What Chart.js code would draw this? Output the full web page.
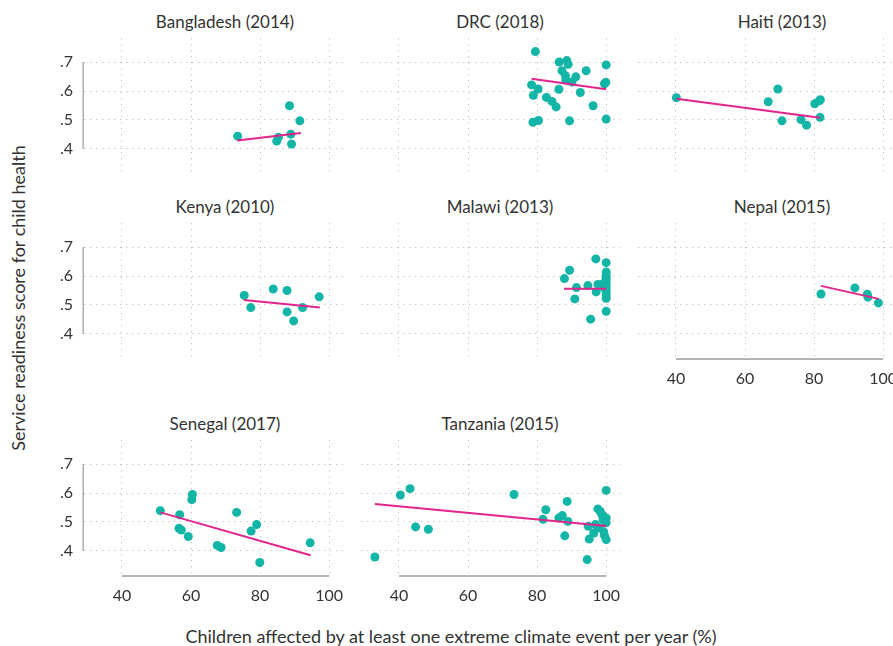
<!DOCTYPE html>
<html><head><meta charset="utf-8">
<script src="https://cdn.jsdelivr.net/npm/chart.js@4.4.0/dist/chart.umd.min.js"></script>
<style>
html,body{margin:0;padding:0;background:#fff;width:893px;height:646px;overflow:hidden;position:relative;font-family:Lato,sans-serif;color:#333;}
.panel{position:absolute;}
.title{position:absolute;font-size:17px;color:#333;text-align:center;width:260px;white-space:nowrap;line-height:20px;}
#ytitle{position:absolute;font-size:18px;white-space:nowrap;left:18px;top:298px;transform:translate(-50%,-50%) rotate(-90deg);}
#xtitle{position:absolute;font-size:18px;white-space:nowrap;left:451px;top:636px;transform:translate(-50%,-50%);}
</style></head><body>
<div id="ytitle">Service readiness score for child health</div>
<div id="xtitle">Children affected by at least one extreme climate event per year (%)</div>
<script>
// ---- data ----
const countries = ["Bangladesh (2014)","DRC (2018)","Haiti (2013)","Kenya (2010)","Malawi (2013)","Nepal (2015)","Senegal (2017)","Tanzania (2015)"];
const xTicks = [40,60,80,100];
const xTickLabels = ["40","60","80","100"];
const yTicks = [0.4,0.5,0.6,0.7];
const yTickLabels = [".4",".5",".6",".7"];

const bangladeshX = [73.5,84.8,85.3,88.5,88.9,89.1,91.5];
const bangladeshY = [0.444,0.427,0.440,0.549,0.451,0.417,0.497];
const bangladeshFitX = [73.4,91.8];
const bangladeshFitY = [0.429,0.455];

const drcX = [79.5,86.4,88.6,89.0,87.2,94.2,100,88.2,91.2,88.3,90.1,99.5,99.9,78.4,80.3,86.3,92.5,78.9,82.7,84.3,85.5,96.2,78.8,80.4,89.4,100];
const drcY = [0.736,0.700,0.705,0.692,0.670,0.670,0.690,0.653,0.649,0.638,0.631,0.625,0.630,0.621,0.607,0.606,0.595,0.585,0.578,0.564,0.545,0.549,0.492,0.498,0.497,0.503];
const drcFitX = [78.4,100];
const drcFitY = [0.642,0.606];

const haitiX = [40.1,69.5,66.7,80.2,81.5,81.8,81.7,70.7,76.2,77.8];
const haitiY = [0.577,0.607,0.563,0.556,0.566,0.570,0.509,0.497,0.501,0.482];
const haitiFitX = [40.1,81.7];
const haitiFitY = [0.573,0.508];

const kenyaX = [75.4,77.3,83.8,87.8,87.8,89.7,92.3,97.1];
const kenyaY = [0.533,0.491,0.555,0.550,0.476,0.445,0.491,0.528];
const kenyaFitX = [75.3,97.3];
const kenyaFitY = [0.517,0.491];

const malawiX = [97.0,100,89.4,87.9,91.4,94.7,97.1,97.6,90.9,95.5,100,100,100,100,100,100,100,100,100,100,99.3,99.3];
const malawiY = [0.659,0.646,0.620,0.591,0.560,0.567,0.545,0.571,0.521,0.451,0.478,0.614,0.603,0.592,0.582,0.570,0.559,0.548,0.535,0.523,0.575,0.560];
const malawiFitX = [87.8,100];
const malawiFitY = [0.556,0.556];

const nepalX = [82.0,91.8,95.4,95.6,98.6];
const nepalY = [0.538,0.559,0.537,0.527,0.507];
const nepalFitX = [82.0,98.7];
const nepalFitY = [0.566,0.521];

const senegalX = [51.1,56.7,60.4,60.2,56.5,57.2,59.2,67.6,68.7,73.2,77.4,79.0,79.9,94.5];
const senegalY = [0.539,0.525,0.595,0.577,0.478,0.472,0.450,0.419,0.412,0.533,0.469,0.491,0.360,0.428];
const senegalFitX = [51.1,94.6];
const senegalFitY = [0.533,0.385];

const tanzaniaX = [33.0,40.4,43.2,44.8,48.5,73.3,81.7,82.5,86.3,87.3,88.7,88.9,88.0,94.5,94.8,95.1,96.4,96.9,97.6,97.9,98.3,98.8,99.1,99.3,99.5,100,100,100,100];
const tanzaniaY = [0.379,0.593,0.615,0.483,0.475,0.595,0.509,0.542,0.514,0.522,0.571,0.502,0.452,0.370,0.485,0.441,0.462,0.491,0.545,0.480,0.536,0.525,0.507,0.466,0.453,0.609,0.439,0.514,0.497];
const tanzaniaFitX = [33.0,100];
const tanzaniaFitY = [0.562,0.486];

const seriesX = [bangladeshX,drcX,haitiX,kenyaX,malawiX,nepalX,senegalX,tanzaniaX];
const seriesY = [bangladeshY,drcY,haitiY,kenyaY,malawiY,nepalY,senegalY,tanzaniaY];
const fitX = [bangladeshFitX,drcFitX,haitiFitX,kenyaFitX,malawiFitX,nepalFitX,senegalFitX,tanzaniaFitX];
const fitY = [bangladeshFitY,drcFitY,haitiFitY,kenyaFitY,malawiFitY,nepalFitY,senegalFitY,tanzaniaFitY];

// ---- layout ----
const colLeft = [84,361,638];
const rowTop = [38,223,440];
const plotW = 259, plotH = 137;
const titleCenter = [225,500,782];
const yAxisW = 44, xAxisH = 34;
const bottomPanels = [5,6,7];

const axisLinesPlugin = {
  id: 'axisLines',
  beforeDatasetsDraw(chart, args, opts) {
    const ctx = chart.ctx, xs = chart.scales.x, ys = chart.scales.y, ca = chart.chartArea;
    ctx.save();
    ctx.strokeStyle = '#b4b4b4';
    if (opts.yLine) {
      ctx.lineWidth = 1.6;
      ctx.beginPath();
      ctx.moveTo(ca.left - 0.8, ys.getPixelForValue(yTicks[0]));
      ctx.lineTo(ca.left - 0.8, ys.getPixelForValue(yTicks[yTicks.length-1]));
      ctx.stroke();
    }
    if (opts.xLine) {
      ctx.lineWidth = 2;
      ctx.beginPath();
      ctx.moveTo(xs.getPixelForValue(xTicks[0]), ca.bottom - 1);
      ctx.lineTo(xs.getPixelForValue(xTicks[xTicks.length-1]), ca.bottom - 1);
      ctx.stroke();
    }
    ctx.restore();
  }
};

countries.forEach((name, i) => {
  const col = i % 3, row = Math.floor(i / 3);
  const hasY = col === 0;
  const hasX = bottomPanels.includes(i);
  const left = colLeft[col] - (hasY ? yAxisW : 0);
  const w = plotW + (hasY ? yAxisW : 0);
  const h = plotH + (hasX ? xAxisH : 0);

  const t = document.createElement('div');
  t.className = 'title';
  t.textContent = name;
  t.style.left = (titleCenter[col] - 130) + 'px';
  t.style.top = (rowTop[row] - 16 - 10) + 'px';
  document.body.appendChild(t);

  const div = document.createElement('div');
  div.className = 'panel';
  div.style.left = left + 'px';
  div.style.top = rowTop[row] + 'px';
  div.style.width = w + 'px';
  div.style.height = h + 'px';
  const cv = document.createElement('canvas');
  div.appendChild(cv);
  document.body.appendChild(div);

  const pts = seriesX[i].map((x, k) => ({x: x, y: seriesY[i][k]}));
  const fit = fitX[i].map((x, k) => ({x: x, y: fitY[i][k]}));

  new Chart(cv, {
    type: 'scatter',
    data: {
      datasets: [
        {data: fit, showLine: true, borderColor: '#e2258c', borderWidth: 2, pointRadius: 0, order: 0},
        {data: pts, backgroundColor: '#13b5a6', borderWidth: 0, pointRadius: 4.5, order: 1}
      ]
    },
    options: {
      responsive: true,
      maintainAspectRatio: false,
      animation: false,
      events: [],
      layout: {padding: 0, autoPadding: false},
      plugins: {legend: {display: false}, tooltip: {enabled: false}, axisLines: {yLine: hasY, xLine: hasX}},
      scales: {
        x: {
          type: 'linear', min: 29, max: 104,
          afterBuildTicks: s => { s.ticks = xTicks.map(v => ({value: v})); },
          afterFit: s => { s.height = hasX ? xAxisH : 0; s.paddingLeft = 0; s.paddingRight = 0; s.paddingTop = 0; s.paddingBottom = 0; },
          grid: {color: '#c2c2c2', lineWidth: 1, drawTicks: false},
          border: {display: false, dash: [1.3, 4.7]},
          ticks: {display: hasX, padding: 9, color: '#333', font: {family: 'Lato', size: 16},
                  maxRotation: 0, autoSkip: false, callback: (v, k) => xTickLabels[k]}
        },
        y: {
          type: 'linear', min: 0.31, max: 0.783,
          afterBuildTicks: s => { s.ticks = yTicks.map(v => ({value: v})); },
          afterFit: s => { s.width = hasY ? yAxisW : 0; s.paddingLeft = 0; s.paddingRight = 0; s.paddingTop = 0; s.paddingBottom = 0; },
          grid: {color: '#c2c2c2', lineWidth: 1, drawTicks: false},
          border: {display: false, dash: [1.3, 4.7]},
          ticks: {display: hasY, padding: 11, color: '#333', font: {family: 'Lato', size: 16},
                  autoSkip: false, callback: (v, k) => yTickLabels[k]}
        }
      }
    },
    plugins: [axisLinesPlugin]
  });
});
</script>
</body></html>
